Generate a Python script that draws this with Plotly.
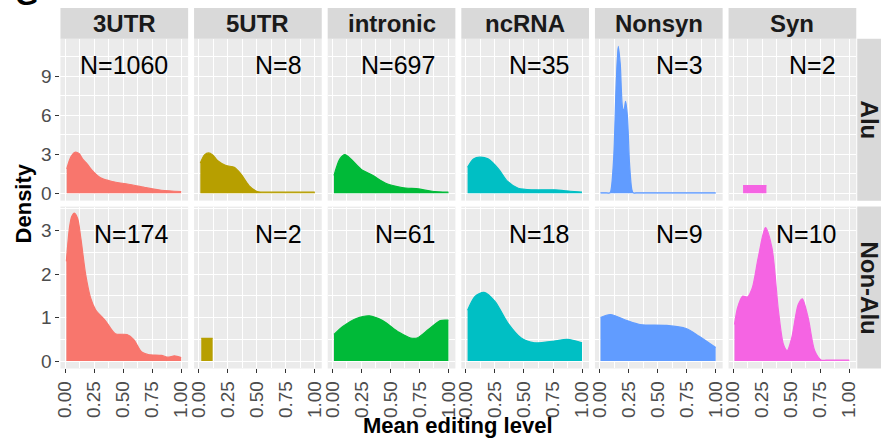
import plotly.graph_objects as go

W, H = 884, 442

categories = ["3UTR", "5UTR", "intronic", "ncRNA", "Nonsyn", "Syn"]
row_labels = ["Alu", "Non-Alu"]
colors = ["#F8766D", "#B79F00", "#00BA38", "#00BFC4", "#619CFF", "#F564E3"]
n_alu = [1060, 8, 697, 35, 3, 2]
n_nonalu = [174, 2, 61, 18, 9, 10]

# ---- Alu densities (x = mean editing level, y = density) ----
alu_3utr_x = [0.014, 0.05, 0.085, 0.12, 0.15, 0.19, 0.235, 0.306, 0.405, 0.547, 0.688, 0.83, 1.0]
alu_3utr_y = [1.87, 2.8, 3.15, 3.05, 2.64, 2.25, 1.74, 1.18, 0.9, 0.69, 0.44, 0.23, 0.13]
alu_5utr_x = [0.014, 0.05, 0.085, 0.12, 0.164, 0.235, 0.306, 0.363, 0.433, 0.504, 0.62, 0.8, 1.0]
alu_5utr_y = [2.33, 2.95, 3.1, 2.95, 2.5, 2.13, 2.0, 1.49, 0.59, 0.13, 0.08, 0.08, 0.08]
alu_intr_x = [0.014, 0.065, 0.108, 0.164, 0.25, 0.35, 0.46, 0.6, 0.745, 0.86, 1.0]
alu_intr_y = [1.36, 2.64, 2.97, 2.59, 1.82, 1.36, 0.77, 0.44, 0.33, 0.15, 0.08]
alu_ncrna_x = [0.014, 0.065, 0.12, 0.19, 0.28, 0.36, 0.45, 0.59, 0.76, 0.9, 1.0]
alu_ncrna_y = [2.0, 2.64, 2.77, 2.64, 1.87, 0.9, 0.38, 0.26, 0.26, 0.15, 0.08]
alu_nonsyn_x = [0.008, 0.05, 0.09, 0.1, 0.122, 0.144, 0.161, 0.178, 0.2, 0.21, 0.224, 0.24,
                0.258, 0.278, 0.29, 0.33, 0.6, 1.0]
alu_nonsyn_y = [0.03, 0.03, 0.03, 0.33, 2.8, 8.65, 11.3, 9.95, 6.5, 6.4, 7.07, 5.9,
                2.3, 0.28, 0.03, 0.03, 0.03, 0.03]
alu_syn_x = [0.085, 0.286]
alu_syn_y = [0.59, 0.59]

# ---- Non-Alu densities ----
non_3utr_x = [0.011, 0.037, 0.057, 0.08, 0.108, 0.136, 0.178, 0.22, 0.263, 0.35, 0.433, 0.533,
              0.59, 0.66, 0.717, 0.83, 0.887, 0.943, 1.0]
non_3utr_y = [2.29, 3.05, 3.32, 3.4, 3.28, 2.82, 1.98, 1.45, 1.18, 0.92, 0.63, 0.61,
              0.5, 0.21, 0.15, 0.13, 0.09, 0.12, 0.08]
non_5utr_x = [0.022, 0.12]
non_5utr_y = [0.52, 0.52]
non_intr_x = [0.014, 0.093, 0.207, 0.32, 0.433, 0.575, 0.674, 0.73, 0.83, 0.93, 1.0]
non_intr_y = [0.61, 0.8, 0.98, 1.04, 0.93, 0.66, 0.53, 0.53, 0.73, 0.93, 0.94]
non_ncrna_x = [0.014, 0.08, 0.156, 0.25, 0.36, 0.476, 0.59, 0.76, 0.873, 1.0]
non_ncrna_y = [1.17, 1.49, 1.58, 1.37, 0.88, 0.53, 0.42, 0.46, 0.5, 0.42]
non_nonsyn_x = [0.008, 0.093, 0.235, 0.348, 0.575, 0.745, 0.858, 1.0]
non_nonsyn_y = [1.0, 1.07, 0.93, 0.84, 0.82, 0.75, 0.57, 0.31]
non_syn_x = [0.011, 0.037, 0.08, 0.122, 0.164, 0.215, 0.278, 0.334, 0.39, 0.433, 0.465,
             0.504, 0.56, 0.595, 0.646, 0.703, 0.76, 0.8, 0.9, 1.0]
non_syn_y = [0.84, 1.22, 1.49, 1.47, 1.68, 2.37, 3.07, 2.6, 1.15, 0.38, 0.24,
             0.53, 1.3, 1.43, 0.99, 0.23, 0.02, 0.02, 0.02, 0.02]

alu_series = [(alu_3utr_x, alu_3utr_y), (alu_5utr_x, alu_5utr_y), (alu_intr_x, alu_intr_y),
              (alu_ncrna_x, alu_ncrna_y), (alu_nonsyn_x, alu_nonsyn_y), (alu_syn_x, alu_syn_y)]
non_series = [(non_3utr_x, non_3utr_y), (non_5utr_x, non_5utr_y), (non_intr_x, non_intr_y),
              (non_ncrna_x, non_ncrna_y), (non_nonsyn_x, non_nonsyn_y), (non_syn_x, non_syn_y)]

x_ticks = [0, 0.25, 0.5, 0.75, 1.0]
x_tick_text = ["0.00", "0.25", "0.50", "0.75", "1.00"]
x_minor = [0.125, 0.375, 0.625, 0.875]
y_ticks_top = [0, 3, 6, 9]
y_minor_top = [1.5, 4.5, 7.5, 10.5]
y_ticks_bot = [0, 1, 2, 3]
y_minor_bot = [0.5, 1.5, 2.5, 3.5]
y_range_top = [-0.57, 11.88]
y_range_bot = [-0.17, 3.55]
x_range = [-0.04, 1.06]
n_label_y = [9.87, 2.92]

# layout geometry (pixels)
panel_left0 = 55
panel_w = 129
panel_gap = 6
row_px = [(39, 202), (208, 371)]
strip_top = (8, 39)
strip_right = (860, 884)

FONT = "Liberation Sans, Arial, sans-serif"
fig = go.Figure()
layout = dict(
    width=W, height=H, margin=dict(l=0, r=0, t=0, b=0),
    paper_bgcolor="white", plot_bgcolor="#EBEBEB", showlegend=False,
    font=dict(family=FONT, color="#4D4D4D"),
)
shapes = []
annotations = []

for r in range(2):
    series = alu_series if r == 0 else non_series
    ns = n_alu if r == 0 else n_nonalu
    y0p, y1p = row_px[r]
    for c in range(6):
        k = r * 6 + c + 1
        left = panel_left0 + c * (panel_w + panel_gap)
        xd = [left / W, (left + panel_w) / W]
        yd = [1 - y1p / H, 1 - y0p / H]
        xs, ys = series[c]
        rect = len(xs) == 2
        fig.add_trace(go.Scatter(
            x=xs, y=ys, mode="lines", fill="tozeroy", fillcolor=colors[c],
            line=dict(color=colors[c], width=1.2, shape="linear" if rect else "spline",
                      smoothing=0.8),
            xaxis=f"x{k}", yaxis=f"y{k}", hoverinfo="skip"))
        xa = dict(domain=xd, anchor=f"y{k}", range=x_range, tickvals=x_ticks,
                  ticktext=x_tick_text, showgrid=True, gridcolor="white", gridwidth=1.4,
                  zeroline=False, showline=False,
                  minor=dict(tickvals=x_minor, showgrid=True, gridcolor="white", gridwidth=0.6),
                  fixedrange=True)
        if r == 1:
            xa.update(ticks="outside", ticklen=4, tickcolor="#333333", tickwidth=1,
                      tickangle=-90, tickfont=dict(size=19, color="#4D4D4D", family=FONT),
                      showticklabels=True)
        else:
            xa.update(ticks="", showticklabels=False)
        ya = dict(domain=yd, anchor=f"x{k}", range=y_range_top if r == 0 else y_range_bot,
                  tickvals=y_ticks_top if r == 0 else y_ticks_bot,
                  showgrid=True, gridcolor="white", gridwidth=1.4, zeroline=False, showline=False,
                  minor=dict(tickvals=y_minor_top if r == 0 else y_minor_bot, showgrid=True,
                             gridcolor="white", gridwidth=0.6),
                  fixedrange=True)
        if c == 0:
            ya.update(ticks="outside", ticklen=4, tickcolor="#333333", tickwidth=1,
                      tickfont=dict(size=19, color="#4D4D4D", family=FONT), showticklabels=True)
        else:
            ya.update(ticks="", showticklabels=False)
        layout[f"xaxis{k}"] = xa
        layout[f"yaxis{k}"] = ya
        # N label
        annotations.append(dict(
            x=0.905, y=n_label_y[r], xref=f"x{k}", yref=f"y{k}", text=f"N={ns[c]}",
            showarrow=False, xanchor="right", yanchor="middle",
            font=dict(size=25, color="black", family=FONT)))
        # top strips
        if r == 0:
            shapes.append(dict(type="rect", xref="paper", yref="paper",
                               x0=xd[0], x1=xd[1], y0=1 - strip_top[1] / H, y1=1 - strip_top[0] / H,
                               fillcolor="#D9D9D9", line=dict(width=0), layer="below"))
            annotations.append(dict(
                x=(xd[0] + xd[1]) / 2, y=1 - (strip_top[0] + strip_top[1]) / 2 / H,
                xref="paper", yref="paper", text=f"<b>{categories[c]}</b>", showarrow=False,
                xanchor="center", yanchor="middle",
                font=dict(size=24, color="#1A1A1A", family=FONT)))
    # right strips
    yd = [1 - y1p / H, 1 - y0p / H]
    shapes.append(dict(type="rect", xref="paper", yref="paper",
                       x0=strip_right[0] / W, x1=strip_right[1] / W, y0=yd[0], y1=yd[1],
                       fillcolor="#D9D9D9", line=dict(width=0), layer="below"))
    annotations.append(dict(
        x=(strip_right[0] + strip_right[1]) / 2 / W, y=(yd[0] + yd[1]) / 2,
        xref="paper", yref="paper", text=f"<b>{row_labels[r]}</b>", showarrow=False,
        textangle=90, xanchor="center", yanchor="middle",
        font=dict(size=24, color="#1A1A1A", family=FONT)))

# axis titles
annotations.append(dict(x=18 / W, y=1 - 205 / H, xref="paper", yref="paper",
                        text="<b>Density</b>", showarrow=False, textangle=-90,
                        xanchor="center", yanchor="middle",
                        font=dict(size=22, color="black", family=FONT)))
annotations.append(dict(x=457 / W, y=1 - 428 / H, xref="paper", yref="paper",
                        text="<b>Mean editing level</b>", showarrow=False,
                        xanchor="center", yanchor="middle",
                        font=dict(size=22, color="black", family=FONT)))
# cropped panel letter at top-left
annotations.append(dict(x=21 / W, y=1 - 13 / H, xref="paper", yref="paper",
                        text="<b>G</b>", showarrow=False, xanchor="center", yanchor="bottom",
                        font=dict(size=30, color="black", family=FONT)))

layout["shapes"] = shapes
layout["annotations"] = annotations
fig.update_layout(**layout)
fig.write_html("out.html")
